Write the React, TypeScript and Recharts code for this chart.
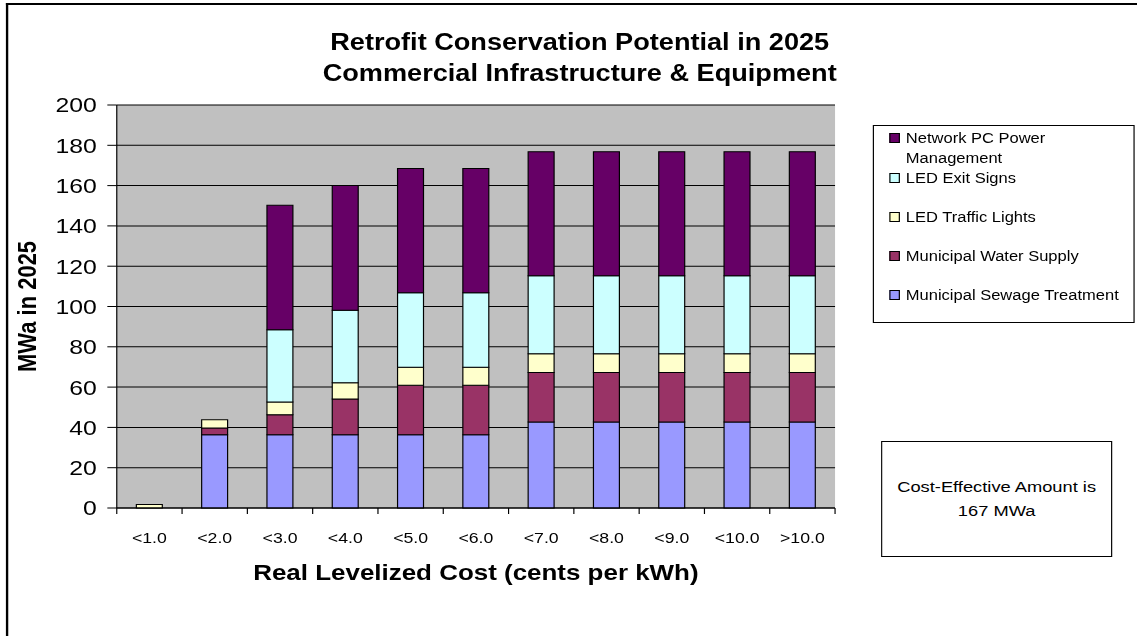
import React from 'react';
import {
  BarChart,
  Bar,
  XAxis,
  YAxis,
  CartesianGrid,
  Legend
} from 'recharts';

// cost bins (cents per kWh)
const categories = ['<1.0', '<2.0', '<3.0', '<4.0', '<5.0', '<6.0', '<7.0', '<8.0', '<9.0', '<10.0', '>10.0'];

// MWa in 2025, per measure
const sewage = [0, 36.4, 36.4, 36.4, 36.4, 36.4, 42.7, 42.7, 42.7, 42.7, 42.7];
const water = [0, 3.3, 9.9, 17.7, 24.5, 24.5, 24.6, 24.6, 24.6, 24.6, 24.6];
const trafficLights = [1.7, 4.1, 6.3, 8.0, 8.9, 8.9, 9.2, 9.2, 9.2, 9.2, 9.2];
const exitSigns = [0, 0, 35.9, 36.0, 37.0, 37.0, 38.8, 38.8, 38.8, 38.8, 38.8];
const networkPc = [0, 0, 61.7, 61.9, 61.7, 61.7, 61.5, 61.5, 61.5, 61.5, 61.5];

const yTicks = [0, 20, 40, 60, 80, 100, 120, 140, 160, 180, 200];

// legend reads top of the stack first
const legendOrder = [
  'Network PC Power Management',
  'LED Exit Signs',
  'LED Traffic Lights',
  'Municipal Water Supply',
  'Municipal Sewage Treatment'
];

const FONT = '"Liberation Sans", Arial, sans-serif';

// the reference is horizontally stretched, so the chart is drawn narrower and scaled
const W = 964;
const H = 636;
const SX = 1137 / W;

const PLOT_LEFT = 99;
const PLOT_RIGHT = 708;
const TICK = 6;
const TICK_MARGIN = 18;

const data = categories.map((name, i) => ({
  name,
  sewage: sewage[i],
  water: water[i],
  traffic: trafficLights[i],
  exit: exitSigns[i],
  network: networkPc[i]
}));

const half = (PLOT_RIGHT - PLOT_LEFT) / categories.length / 2;

const CategoryTick = (props: any) => {
  const { x, y, payload, index } = props;
  const axisY = y - TICK_MARGIN - TICK;
  return (
    <g>
      <line x1={x - half} y1={axisY} x2={x - half} y2={axisY + TICK} stroke="#000" />
      {index === categories.length - 1 && (
        <line x1={x + half} y1={axisY} x2={x + half} y2={axisY + TICK} stroke="#000" />
      )}
      <text x={x} y={y} dy="0.71em" textAnchor="middle" fontSize={15} fontFamily={FONT} fill="#000">
        {payload.value}
      </text>
    </g>
  );
};

const LegendBox = (props: any) => {
  const items = [...(props.payload || [])].sort(
    (a: any, b: any) => legendOrder.indexOf(a.value) - legendOrder.indexOf(b.value)
  );
  const tops = [2, 42, 81, 120, 159];
  return (
    <div style={{ position: 'relative', width: 222, height: 198, border: '1px solid #000', boxSizing: 'border-box', background: '#fff', fontFamily: FONT, fontSize: 14, lineHeight: '20px', color: '#000' }}>
      {items.map((item: any, i: number) => (
        <div key={item.value} style={{ position: 'absolute', top: tops[i], left: 0 }}>
          <div style={{ position: 'absolute', left: 13, top: 5, width: 8.5, height: 10, background: item.color, border: '1px solid #000', boxSizing: 'border-box' }} />
          <div style={{ position: 'absolute', left: 27, top: 0, width: 188 }}>{item.value}</div>
        </div>
      ))}
    </div>
  );
};

export default function App() {
  return (
    <div style={{ position: 'absolute', left: 0, top: 0, width: 1137, height: 636, overflow: 'hidden', background: '#fff' }}>
      <div style={{ position: 'relative', width: W, height: H, transform: `scaleX(${SX})`, transformOrigin: '0 0' }}>
        <div style={{ position: 'absolute', left: 5, top: 3, width: W + 10, height: H + 10, borderLeft: '2px solid #000', borderTop: '2px solid #000' }} />

        <div style={{ position: 'absolute', left: 0, top: 26.5, width: 983, textAlign: 'center', fontFamily: FONT, fontWeight: 'bold', fontSize: 23, lineHeight: '31px', color: '#000' }}>
          Retrofit Conservation Potential in 2025<br />
          Commercial Infrastructure &amp; Equipment
        </div>

        <BarChart
          width={W}
          height={H}
          data={data}
          barCategoryGap="30%"
          margin={{ top: 105, right: W - PLOT_RIGHT, left: 0, bottom: 98 }}
          style={{ position: 'absolute', left: 0, top: 0 }}
        >
          <CartesianGrid vertical={false} stroke="#000" fill="#C0C0C0" fillOpacity={1} />
          <XAxis
            dataKey="name"
            height={30}
            axisLine={{ stroke: '#000' }}
            tickLine={false}
            tickSize={TICK}
            tickMargin={TICK_MARGIN}
            interval={0}
            tick={<CategoryTick />}
            label={{ value: 'Real Levelized Cost (cents per kWh)', position: 'bottom', offset: 26, style: { fontFamily: FONT, fontWeight: 'bold', fontSize: 22, fill: '#000' } }}
          />
          <YAxis
            width={PLOT_LEFT}
            domain={[0, 200]}
            ticks={yTicks}
            interval={0}
            axisLine={{ stroke: '#000' }}
            tickLine={{ stroke: '#000' }}
            tickSize={8}
            tickMargin={9}
            tick={{ fontFamily: FONT, fontSize: 21, fill: '#000' }}
            label={{ value: 'MWa in 2025', angle: -90, position: 'insideLeft', offset: 23, style: { textAnchor: 'middle', fontFamily: FONT, fontWeight: 'bold', fontSize: 22, fill: '#000' } }}
          />
          <Legend
            layout="vertical"
            align="center"
            verticalAlign="middle"
            content={<LegendBox />}
            wrapperStyle={{ left: 740, top: 125, width: 222, height: 198 }}
          />
          <Bar dataKey="sewage" name="Municipal Sewage Treatment" stackId="a" fill="#9999FF" stroke="#000" strokeWidth={1} isAnimationActive={false} />
          <Bar dataKey="water" name="Municipal Water Supply" stackId="a" fill="#993366" stroke="#000" strokeWidth={1} isAnimationActive={false} />
          <Bar dataKey="traffic" name="LED Traffic Lights" stackId="a" fill="#FFFFCC" stroke="#000" strokeWidth={1} isAnimationActive={false} />
          <Bar dataKey="exit" name="LED Exit Signs" stackId="a" fill="#CCFFFF" stroke="#000" strokeWidth={1} isAnimationActive={false} />
          <Bar dataKey="network" name="Network PC Power Management" stackId="a" fill="#660066" stroke="#000" strokeWidth={1} isAnimationActive={false} />
        </BarChart>

        <div style={{ position: 'absolute', left: 747, top: 441, width: 196, height: 116, border: '1px solid #000', boxSizing: 'border-box', background: '#fff', display: 'flex', alignItems: 'center', justifyContent: 'center', textAlign: 'center', fontFamily: FONT, fontSize: 15.5, lineHeight: '23.7px', color: '#000' }}>
          Cost-Effective Amount is<br />167 MWa
        </div>
      </div>
    </div>
  );
}
